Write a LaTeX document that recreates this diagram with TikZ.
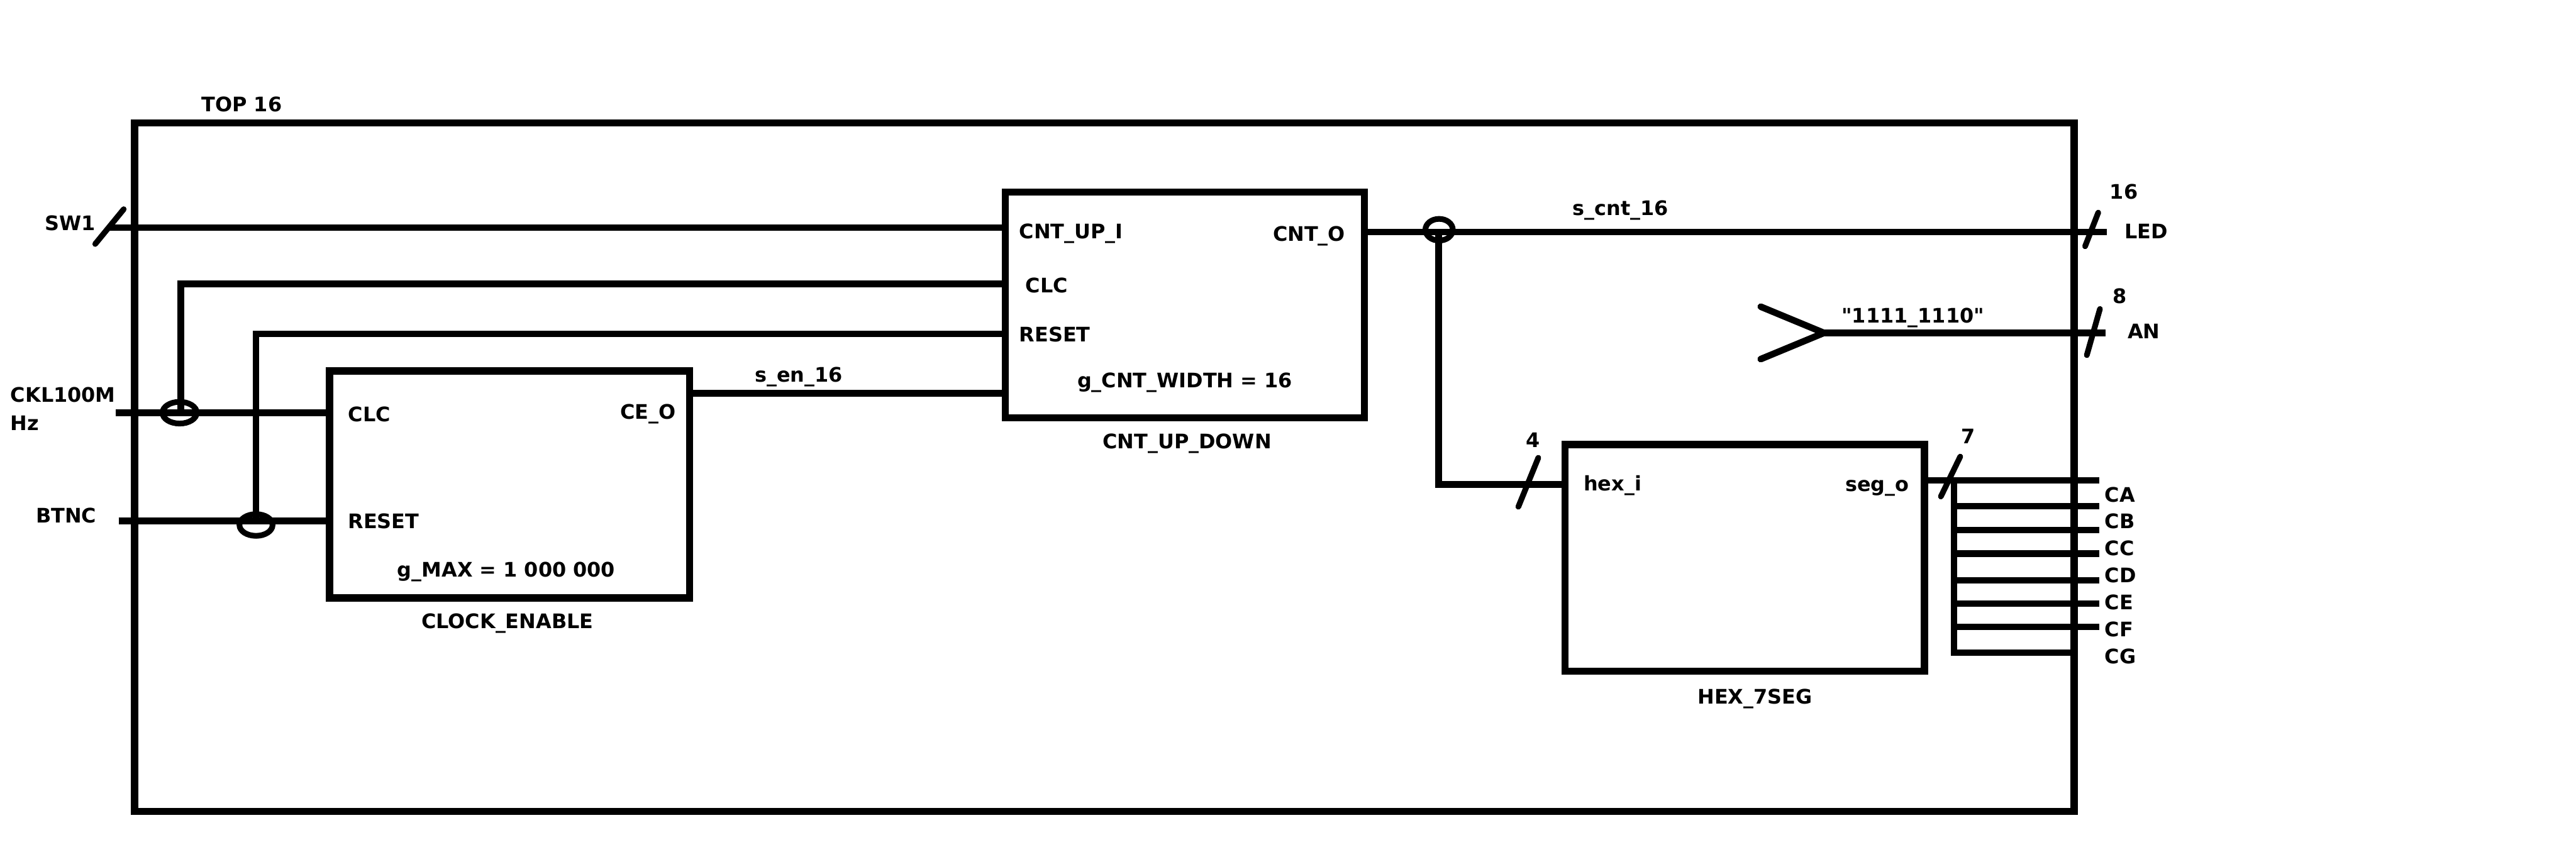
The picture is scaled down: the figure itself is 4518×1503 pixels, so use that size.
\documentclass[tikz,border=0pt]{standalone}
\usepackage{fontspec}
\setmainfont{DejaVu Sans}[Ligatures=TeXOff]
\begin{document}
\begin{tikzpicture}[x=0.01cm,y=-0.01cm,
  wire/.style={line width=0.115cm},
  tick/.style={line width=0.10cm, line cap=round},
  blk/.style={draw, line width=0.125cm, inner sep=0pt},
  jct/.style={line width=0.10cm},
  lbl/.style={inner sep=0pt, font=\fontsize{10}{12}\selectfont\bfseries, text height=7.1pt, text depth=0pt}]
\fill[white] (0,0) rectangle (4518,1503);
\useasboundingbox (0,0) rectangle (4518,1503);

% outer frame and blocks
\node[draw, line width=0.13cm, inner sep=0pt, minimum width=34.00cm, minimum height=12.07cm] (top) at (1937,819.5) {};
\node[blk, minimum width=6.31cm, minimum height=3.98cm] (ce) at (893.5,850) {};
\node[blk, minimum width=6.30cm, minimum height=3.96cm] (cnt) at (2078,535) {};
\node[blk, minimum width=6.30cm, minimum height=3.97cm] (hex) at (3060,978.5) {};

% coordinates
\coordinate (sw1) at (192,399);
\coordinate (clk) at (203,724);
\coordinate (btn) at (208,914);
\coordinate (jclk) at (317,724);
\coordinate (clcbend) at (317,498);
\coordinate (jrst) at (449,914);
\coordinate (rstbend) at (449,586);
\coordinate (ceo) at (1209,690);
\coordinate (cnto) at (2393,407);
\coordinate (jcnt) at (2523,407);
\coordinate (hexbend) at (2523,850);
\coordinate (hexin) at (2745,850);
\coordinate (ledend) at (3695,407);
\coordinate (anapex) at (3199,584);
\coordinate (antop) at (3088,538);
\coordinate (anbot) at (3088,630);
\coordinate (anend) at (3693,584);
\coordinate (segout) at (3375,843);
\coordinate (segend) at (3682,843);
\coordinate (bus) at (3427,843);
\coordinate (busbot) at (3427,1145);
\coordinate (cgend) at (3637,1145);

% wires
\draw[wire] (sw1) -- (sw1 -| cnt.west);
\draw[wire] (clk) -- (clk -| ce.west);
\draw[wire] (btn) -- (btn -| ce.west);
\draw[wire] (jclk) -- (clcbend) -- (clcbend -| cnt.west);
\draw[wire] (jrst) -- (rstbend) -- (rstbend -| cnt.west);
\draw[wire] (ceo) -- (ceo -| cnt.west);
\draw[wire] (cnto) -- (ledend);
\draw[wire] (jcnt) -- (hexbend) -- (hexin);
\draw[wire, line cap=round] (antop) -- (anapex) -- (anbot);
\draw[wire] (anapex) -- (anend);
\draw[wire] (segout) -- (segend);
\draw[wire] (bus) -- (busbot) -- (cgend);
\foreach \yy in {888,930,971,1018,1059,1100} {
  \draw[wire] (bus |- 0,\yy) -- (segend |- 0,\yy);
}

% junction rings
\draw[jct] (315,724) ellipse [x radius=0.30cm, y radius=0.19cm];
\draw[jct] (449,921) ellipse [x radius=0.29cm, y radius=0.19cm];
\draw[jct] (2524,403) ellipse [x radius=0.24cm, y radius=0.19cm];

% bus width ticks
\draw[tick] (167,428) -- (217,367);
\draw[tick] (2663,889) -- (2698,803);
\draw[tick] (3404,871) -- (3438,801);
\draw[tick] (3657,432) -- (3680,373);
\draw[tick] (3660,623) -- (3683,542);

% labels
\node[lbl] (ltop) at (424,183) {TOP 16};
\node[lbl] (lsw) at (123,392) {SW1};
\node[lbl, anchor=west] (lckl) at (18,693) {CKL100M};
\node[lbl, anchor=west] (lhz) at (18,742) {Hz};
\node[lbl] (lbtn) at (116,905) {BTNC};

\node[lbl, anchor=west] (ceclc) at (610,727) {CLC};
\node[lbl, anchor=west] (cerst) at (610,915) {RESET};
\node[lbl, anchor=east] (ceout) at (1186,723) {CE\_O};
\node[lbl] (cegen) at (888,1000) {g\_MAX = 1 000 000};
\node[lbl] (cename) at (890,1090) {CLOCK\_ENABLE};
\node[lbl] (sen) at (1401,658) {s\_en\_16};

\node[lbl, anchor=west] (cntin) at (1787,406) {CNT\_UP\_I};
\node[lbl, anchor=west] (cntclc) at (1798,501) {CLC};
\node[lbl, anchor=west] (cntrst) at (1787,587) {RESET};
\node[lbl] (cntgen) at (2078,667) {g\_CNT\_WIDTH = 16};
\node[lbl, anchor=east] (cntout) at (2360,410) {CNT\_O};
\node[lbl] (cntname) at (2082,775) {CNT\_UP\_DOWN};

\node[lbl] (scnt) at (2842,365) {s\_cnt\_16};
\node[lbl] (l16) at (3725,337) {16};
\node[lbl, anchor=west] (lled) at (3726,406) {LED};
\node[lbl] (l8) at (3718,520) {8};
\node[lbl, anchor=west] (lan) at (3731,581) {AN};
\node[lbl] (lconst) at (3355,554) {"1111\_1110"};

\node[lbl] (l4) at (2689,772) {4};
\node[lbl] (l7) at (3452,766) {7};
\node[lbl, anchor=west] (hexi) at (2777,848) {hex\_i};
\node[lbl, anchor=east] (sego) at (3349,849) {seg\_o};
\node[lbl] (hexname) at (3078,1222) {HEX\_7SEG};

\node[lbl, anchor=west] (lca) at (3691,868) {CA};
\node[lbl, anchor=west] (lcb) at (3691,915) {CB};
\node[lbl, anchor=west] (lcc) at (3691,962) {CC};
\node[lbl, anchor=west] (lcd) at (3691,1009) {CD};
\node[lbl, anchor=west] (lce) at (3691,1057) {CE};
\node[lbl, anchor=west] (lcf) at (3691,1104) {CF};
\node[lbl, anchor=west] (lcg) at (3691,1152) {CG};
\end{tikzpicture}
\end{document}
